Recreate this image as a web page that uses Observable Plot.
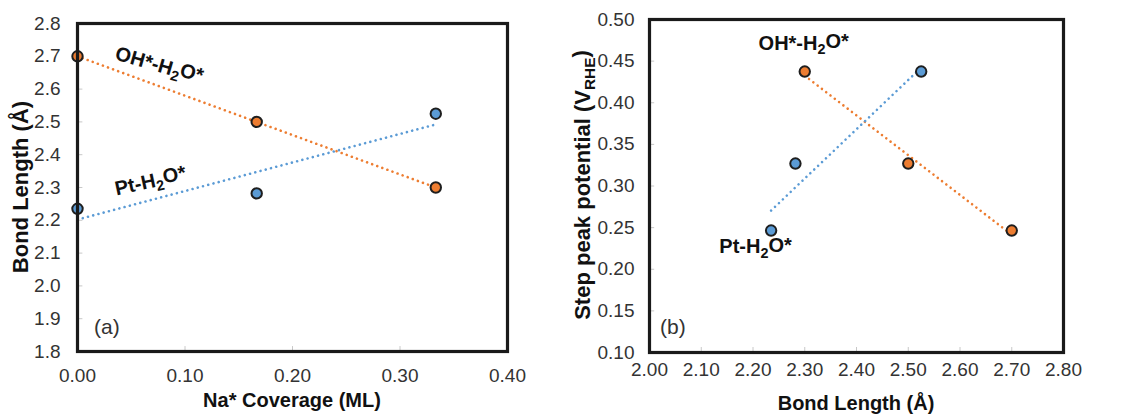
<!DOCTYPE html>
<html><head><meta charset="utf-8">
<script src="https://cdn.jsdelivr.net/npm/d3@7"></script>
<script src="https://cdn.jsdelivr.net/npm/@observablehq/plot@0.6"></script>
<style>
body{margin:0;background:#fff;font-family:"Liberation Sans",Arial,sans-serif;}
#wrap{position:relative;width:1131px;height:414px;overflow:hidden;background:#fff;}
#a{position:absolute;left:0;top:0;width:565px;}
#b{position:absolute;left:565px;top:0;width:566px;}
</style></head><body><div id="wrap"><div id="a"></div><div id="b"></div></div>
<script>
// ---- data ----
const coverage = [0, 0.1667, 0.3333];            // Na* coverage (ML)
const bondOH = [2.70, 2.50, 2.30];               // OH*-H2O* bond length (Å)
const bondPt = [2.235, 2.282, 2.525];            // Pt-H2O* bond length (Å)
const peakPotential = [0.2465, 0.327, 0.4375];   // step peak potential (V_RHE)
const seriesNames = ["OH*-H2O*", "Pt-H2O*"];
const seriesColors = ["#ED7D31", "#5B9BD5"];
const xTicksA = [0.00, 0.10, 0.20, 0.30, 0.40];
const yTicksA = [1.8, 1.9, 2.0, 2.1, 2.2, 2.3, 2.4, 2.5, 2.6, 2.7, 2.8];
const xTicksB = [2.00, 2.10, 2.20, 2.30, 2.40, 2.50, 2.60, 2.70, 2.80];
const yTicksB = [0.10, 0.15, 0.20, 0.25, 0.30, 0.35, 0.40, 0.45, 0.50];

const tableA = coverage.flatMap((c, i) => [
  {s: seriesNames[0], x: c, y: bondOH[i]},
  {s: seriesNames[1], x: c, y: bondPt[i]}
]);
const tableB = coverage.flatMap((c, i) => [
  {s: seriesNames[0], x: bondOH[i], y: peakPotential[i]},
  {s: seriesNames[1], x: bondPt[i], y: peakPotential[i]}
]);

const colorScale = {domain: seriesNames, range: seriesColors};
const font = "Liberation Sans, Arial, sans-serif";
const DASH = "0.01 5.4";
const dotted = {strokeWidth: 2.6, strokeDasharray: DASH, strokeLinecap: "round", ci: 0};

function panel(opts) {
  const {table, xDom, yDom, xT, yT, xFmt, yFmt, w, ml, mr, mt, mb, xPad, yPad, tickLenX, tickLenY, annots} = opts;
  return Plot.plot({
    width: w, height: 414,
    marginLeft: ml, marginRight: mr, marginTop: mt, marginBottom: mb,
    style: {fontFamily: font, background: "white", color: "#333", overflow: "visible"},
    x: {domain: xDom},
    y: {domain: yDom},
    color: colorScale,
    marks: [
      Plot.ruleY(yT, {y: d => d, x1: xDom[0], x2: xDom[0] + tickLenY, stroke: "#c8c8c8", strokeWidth: 1}),
      Plot.ruleX(xT, {x: d => d, y1: yDom[0], y2: yDom[0] + tickLenX, stroke: "#c8c8c8", strokeWidth: 1}),
      Plot.axisX(xT, {tickSize: 0, tickPadding: xPad, tickFormat: d3.format(xFmt), fontSize: 19, label: null}),
      Plot.axisY(yT, {tickSize: 0, tickPadding: yPad, tickFormat: d3.format(yFmt), fontSize: 19, label: null}),
      Plot.linearRegressionY(table.filter(d => d.s === seriesNames[0]), {x: "x", y: "y", stroke: seriesColors[0], ...dotted}),
      Plot.linearRegressionY(table.filter(d => d.s === seriesNames[1]), {x: "x", y: "y", stroke: seriesColors[1], ...dotted}),
      Plot.dot(table, {x: "x", y: "y", fill: "s", r: 5.2, stroke: "#1e1e1e", strokeWidth: 2}),
      Plot.text(annots, {x: "x", y: "y", text: "t", rotate: "r", fontSize: 20, fontWeight: "bold", fill: "#111", textAnchor: "middle", lineAnchor: "middle"}),
      Plot.frame({stroke: "#1a1a1a", strokeWidth: 3.2})
    ]
  });
}

function fixStyles(svg) {
  d3.select(svg).selectAll('[aria-label="linear-regression"]')
    .attr("stroke-dasharray", DASH).attr("stroke-linecap", "round");
}

function subscriptify(svg) {
  d3.select(svg).selectAll("text").each(function() {
    const s = this.textContent;
    if (!/H2O/.test(s)) return;
    const parts = s.split(/(?<=H)2(?=O)/);
    const t = d3.select(this);
    t.text(null);
    t.append("tspan").text(parts[0]);
    t.append("tspan").attr("dy", "0.3em").attr("font-size", "72%").text("2");
    t.append("tspan").attr("dy", "-0.3em").text(parts[1]);
  });
}

function addLabel(svg, x, y, rot, size, pieces) {
  const t = d3.select(svg).append("text")
    .attr("transform", `translate(${x},${y}) rotate(${rot})`)
    .attr("text-anchor", "middle").attr("font-family", font)
    .attr("font-size", size).attr("font-weight", "bold").attr("fill", "#111");
  pieces.forEach(([s, sub], i) => {
    const ts = t.append("tspan").text(s);
    if (sub) ts.attr("dy", "0.3em").attr("font-size", "70%");
    else if (i > 0 && pieces[i - 1][1]) ts.attr("dy", "-0.3em");
  });
  return t;
}
function addPlain(svg, x, y, size, s) {
  d3.select(svg).append("text").attr("x", x).attr("y", y).attr("text-anchor", "start")
    .attr("font-family", font).attr("font-size", size).attr("fill", "#333").text(s);
}

// ---- panel (a) ----
const svgA = panel({
  table: tableA, xDom: [0, 0.4], yDom: [1.8, 2.8], xT: xTicksA, yT: yTicksA,
  xFmt: ".2f", yFmt: ".1f", w: 565, ml: 77, mr: 58, mt: 23, mb: 63,
  xPad: 17, yPad: 17, tickLenX: 0.015, tickLenY: 0.005,
  annots: [
    {t: seriesNames[0], x: 0.076, y: 2.672, r: 16},
    {t: seriesNames[1], x: 0.068, y: 2.318, r: -12}
  ]
});
fixStyles(svgA);
subscriptify(svgA);
addLabel(svgA, 292, 407, 0, 20, [["Na* Coverage (ML)", 0]]);
addLabel(svgA, 28, 187, -90, 22, [["Bond Length (Å)", 0]]);
addPlain(svgA, 94, 334, 21, "(a)");
document.getElementById("a").appendChild(svgA);

// ---- panel (b) ----
const svgB = panel({
  table: tableB, xDom: [2.0, 2.8], yDom: [0.10, 0.50], xT: xTicksB, yT: yTicksB,
  xFmt: ".2f", yFmt: ".2f", w: 566, ml: 84, mr: 68, mt: 19, mb: 62,
  xPad: 10, yPad: 15, tickLenX: 0.006, tickLenY: 0.01,
  annots: [
    {t: seriesNames[0], x: 2.298, y: 0.471, r: 0},
    {t: seriesNames[1], x: 2.205, y: 0.227, r: 0}
  ]
});
fixStyles(svgB);
subscriptify(svgB);
addLabel(svgB, 291, 410, 0, 20, [["Bond Length (Å)", 0]]);
addLabel(svgB, 25, 185, -90, 22, [["Step peak potential (V", 0], ["RHE", 1], [")", 0]]);
addPlain(svgB, 95, 334, 21, "(b)");
document.getElementById("b").appendChild(svgB);
</script></body></html>
